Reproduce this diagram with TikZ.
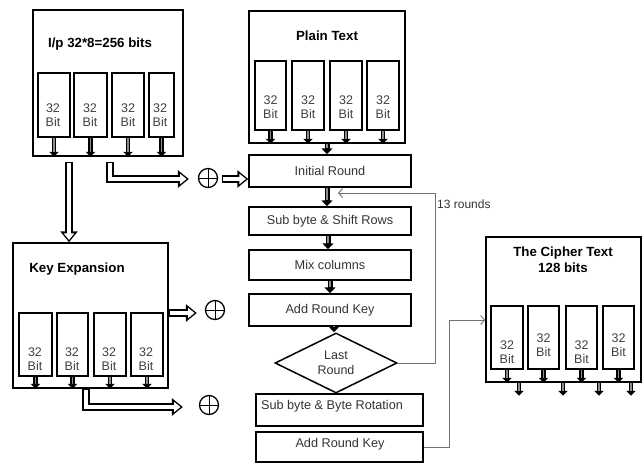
\documentclass[tikz,border=0pt]{standalone}
\usepackage{fontspec}
\setmainfont{Liberation Sans}
\usetikzlibrary{arrows.meta,shapes.geometric,calc}
\begin{document}
\begin{tikzpicture}[x=1pt,y=-1pt,
  outer/.style={draw, line width=1.5pt, inner sep=0pt},
  sub/.style={draw, line width=1.5pt, inner sep=0pt},
  proc/.style={draw, line width=1.5pt, inner sep=0pt, font=\fontsize{12.7}{14}\selectfont, text=black!80},
  bit/.style={font=\fontsize{12.5}{14}\selectfont, text=black!75, align=center, inner sep=0pt},
  ttl/.style={font=\bfseries\fontsize{13.3}{16.5}\selectfont, align=center, inner sep=0pt},
  hollow/.style={line width=7.5pt, line join=miter, -{Triangle[length=11pt,width=17pt]},
    postaction={draw=white, line width=4.3pt, line join=miter, -{Triangle[length=6.5pt,width=10pt]}, shorten >=2.3pt, shorten <=1.3pt}},
  smallarr/.style={line width=4.2pt, -{Triangle[length=5pt,width=9.5pt]},
    postaction={draw=black!45, line width=1.3pt, arrows=-, shorten >=5pt, shorten <=0pt}},
  colarr/.style={line width=5pt, -{Triangle[length=6pt,width=11pt]},
    postaction={draw=black!45, line width=1.5pt, arrows=-, shorten >=6pt, shorten <=0pt}},
  thinarr/.style={draw=black!55, line width=0.9pt, -{Straight Barb[length=4pt,width=9pt]}},
  xorc/.style={draw, circle, line width=1.3pt, minimum size=19pt, inner sep=0pt}
]
\useasboundingbox (0,0) rectangle (644,464);

% ---------- input box ----------
\node[outer, minimum width=150pt, minimum height=146pt] (inp) at (108,83) {};
\node[ttl] (inpT) at (100,44) {I/p 32*8=256 bits};
\node[sub, minimum width=32pt, minimum height=64pt] (i1) at (54,105) {};
\node[sub, minimum width=33pt, minimum height=64pt] (i2) at (90.5,105) {};
\node[sub, minimum width=32pt, minimum height=64pt] (i3) at (128,105) {};
\node[sub, minimum width=25pt, minimum height=64pt] (i4) at (161.5,105) {};
\node[bit] (i1t) at (53,115) {32\\Bit};
\node[bit] (i2t) at (90,115) {32\\Bit};
\node[bit] (i3t) at (128,115) {32\\Bit};
\node[bit] (i4t) at (160,115) {32\\Bit};
\foreach \n in {i1,i2,i3,i4} \draw[smallarr] (\n.south) -- (\n.south |- inp.south);

% ---------- plain text box ----------
\node[outer, minimum width=156pt, minimum height=132pt] (pt) at (327,77) {};
\node[ttl] (ptT) at (327,36) {Plain Text};
\node[sub, minimum width=31pt, minimum height=69pt] (q1) at (270.5,95.5) {};
\node[sub, minimum width=32pt, minimum height=69pt] (q2) at (308,95.5) {};
\node[sub, minimum width=32pt, minimum height=69pt] (q3) at (346,95.5) {};
\node[sub, minimum width=32pt, minimum height=69pt] (q4) at (383,95.5) {};
\node[bit] (q1t) at (270.5,107) {32\\Bit};
\node[bit] (q2t) at (308,107) {32\\Bit};
\node[bit] (q3t) at (346,107) {32\\Bit};
\node[bit] (q4t) at (383,107) {32\\Bit};
\foreach \n in {q1,q2,q3,q4} \draw[smallarr] (\n.south) -- (\n.south |- pt.south);

% ---------- process column ----------
\node[proc, minimum width=162pt, minimum height=32pt] (init) at (330,171) {Initial Round};
\node[proc, minimum width=162pt, minimum height=28pt] (sbsr) at (330,221) {Sub byte \& Shift Rows};
\node[proc, minimum width=162pt, minimum height=30pt] (mix) at (330,265) {Mix columns};
\node[proc, minimum width=162pt, minimum height=32pt] (ark) at (330,310) {Add Round Key};
\node[draw, diamond, line width=1.5pt, minimum width=122pt, minimum height=49pt, inner sep=0pt,
      font=\fontsize{12.5}{14.5}\selectfont, text=black!80, align=center] (last) at (336,363) {Last\\Round};
\node[draw, line width=1.5pt, minimum width=167pt, minimum height=32pt] (sbbr) at (339.5,410) {};
\node[proc, draw=none] (sbbrT) at (332,406) {Sub byte \& Byte Rotation};
\node[draw, line width=1.5pt, minimum width=167pt, minimum height=30pt] (ark2) at (339.5,447) {};
\node[proc, draw=none] (ark2T) at (340,444) {Add Round Key};

\draw[colarr] (pt.south -| 327,0) -- (init.north -| 327,0);
\draw[colarr] (init.south -| 327,0) -- (sbsr.north -| 327,0);
\draw[colarr] (sbsr.south -| 328,0) -- (mix.north -| 328,0);
\draw[colarr] (mix.south -| 330,0) -- (ark.north -| 330,0);
\draw[colarr] (ark.south -| 334,0) -- (last.north -| 334,0);

% feedback loop
\coordinate (fb) at (338,193);
\draw[thinarr] (last.east) -| (435,193) -- (fb);
\node[font=\fontsize{12}{14}\selectfont, text=black!80, anchor=west, inner sep=0pt] (rounds) at (437,204) {13 rounds};

% ---------- key expansion ----------
\node[outer, minimum width=155pt, minimum height=145pt] (ke) at (90.5,315.5) {};
\node[ttl] (keT) at (77,269) {Key Expansion};
\node[sub, minimum width=33pt, minimum height=63pt] (k1) at (35.5,344.5) {};
\node[sub, minimum width=31pt, minimum height=63pt] (k2) at (72.5,344.5) {};
\node[sub, minimum width=32pt, minimum height=63pt] (k3) at (110,344.5) {};
\node[sub, minimum width=32pt, minimum height=63pt] (k4) at (147,344.5) {};
\node[bit] (k1t) at (35,359) {32\\Bit};
\node[bit] (k2t) at (72,359) {32\\Bit};
\node[bit] (k3t) at (109,359) {32\\Bit};
\node[bit] (k4t) at (146,359) {32\\Bit};
\foreach \n in {k1,k2,k3,k4} \draw[smallarr] (\n.south) -- (\n.south |- ke.south);

% ---------- cipher text ----------
\node[outer, minimum width=155pt, minimum height=145pt] (ci) at (563.5,309.5) {};
\node[ttl] (ciT) at (563,259.5) {The Cipher Text\\128 bits};
\node[sub, minimum width=32pt, minimum height=63pt] (c1) at (507,337.5) {};
\node[sub, minimum width=31pt, minimum height=63pt] (c2) at (543.5,337.5) {};
\node[sub, minimum width=31pt, minimum height=63pt] (c3) at (581.5,337.5) {};
\node[sub, minimum width=31pt, minimum height=63pt] (c4) at (618.5,337.5) {};
\node[bit] (c1t) at (507,352) {32\\Bit};
\node[bit] (c2t) at (543.5,345) {32\\Bit};
\node[bit] (c3t) at (581.5,352) {32\\Bit};
\node[bit] (c4t) at (618.5,345) {32\\Bit};
\foreach \n in {c1,c2,c3,c4} \draw[smallarr] (\n.south) -- (\n.south |- ci.south);
\foreach \n/\dx in {c1/12,c2/19.5,c3/17.5,c4/12.5}
  \draw[smallarr] ($(\n.south |- ci.south)+(\dx,0)$) -- ++(0,13);

\draw[thinarr] (ark2.east) -- (449,447) |- (ci.west |- 0,320);

% ---------- XOR symbols ----------
\node[xorc] (p1) at (208,178) {};
\node[xorc] (p2) at (215,310) {};
\node[xorc] (p3) at (209,405) {};
\foreach \p in {p1,p2,p3}
  \draw[line width=0.9pt] (\p.north) -- (\p.south) (\p.west) -- (\p.east);

% ---------- double (hollow) arrows ----------
\coordinate (a1s) at (69,162);
\draw[hollow] (a1s) -- (a1s |- ke.north);
\coordinate (a2s) at (110,162);
\draw[hollow] (a2s) |- ($(p1.west)+(-9,1)$);
\draw[hollow] ($(p1.east)+(4,1)$) -- (init.west |- 0,179);
\draw[hollow] (ke.east |- 0,313) -- ($(p2.west)+(-8,3)$);
\draw[hollow] (ke.south -| 86,0) |- ($(p3.west)+(-16,2)$);
\end{tikzpicture}
\end{document}
